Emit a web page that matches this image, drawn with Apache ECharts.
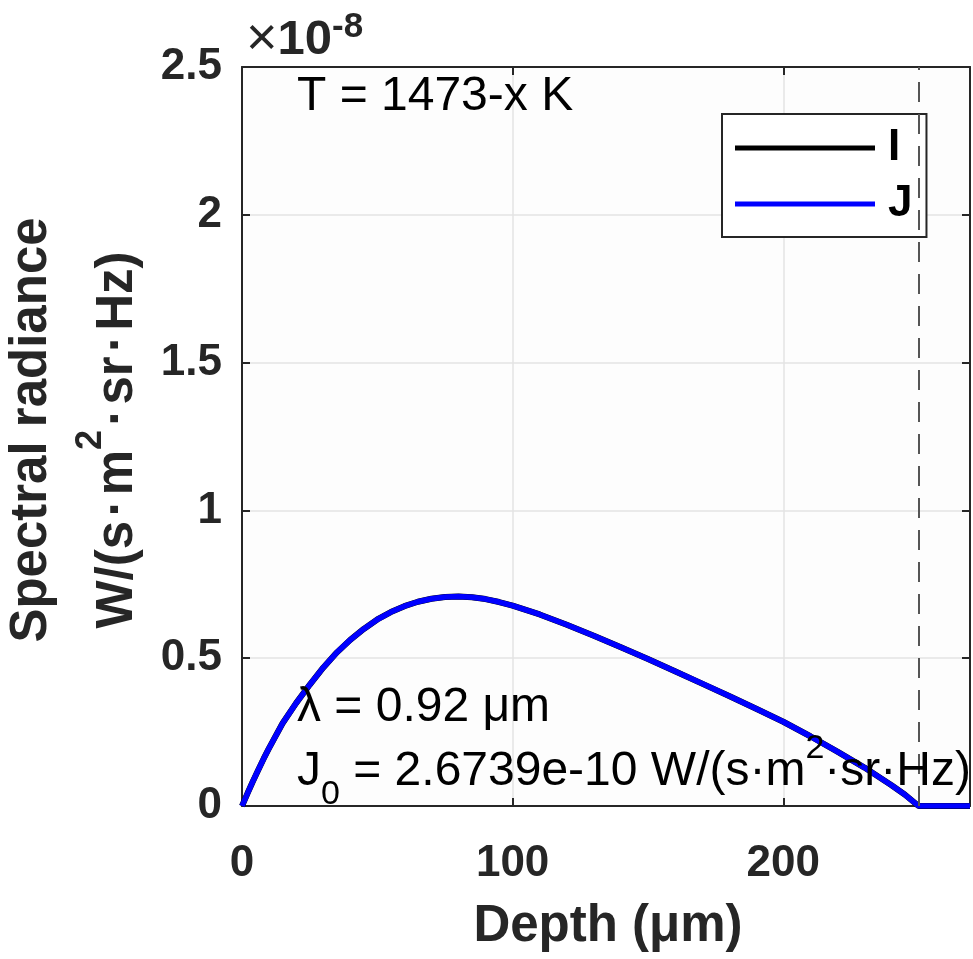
<!DOCTYPE html>
<html><head><meta charset="utf-8">
<script src="https://cdn.jsdelivr.net/npm/echarts@6/dist/echarts.min.js"></script>
<style>html,body{margin:0;padding:0;background:#fff}#c{width:973px;height:959px}</style>
</head><body><div id="c"></div>
<script>
// Depth (µm)
const depth = [0, 2, 4, 6, 8, 10, 15, 20, 25, 30, 35, 40, 45, 50, 55, 60, 65, 70, 75, 80, 85, 90, 95, 100,
  110, 120, 130, 140, 150, 160, 170, 180, 190, 200, 210, 220, 230, 240, 245, 250, 255, 260, 269];
// Spectral radiance, units of 1e-8 W/(s·m²·sr·Hz)
const valuesJ = [0, 0.042, 0.083, 0.122, 0.160, 0.196, 0.280, 0.348, 0.410, 0.468, 0.519, 0.562, 0.599, 0.631, 0.656, 0.676, 0.691, 0.701, 0.707, 0.709, 0.706, 0.700, 0.690, 0.678,
  0.648, 0.613, 0.576, 0.537, 0.497, 0.456, 0.414, 0.372, 0.329, 0.285, 0.236, 0.184, 0.130, 0.070, 0.038, 0, 0, 0, 0];
const valuesI = [0, 0.042, 0.083, 0.122, 0.160, 0.196, 0.280, 0.348, 0.410, 0.468, 0.519, 0.562, 0.599, 0.631, 0.656, 0.676, 0.691, 0.701, 0.707, 0.709, 0.706, 0.700, 0.690, 0.678,
  0.648, 0.613, 0.576, 0.537, 0.497, 0.456, 0.414, 0.372, 0.329, 0.285, 0.236, 0.184, 0.130, 0.070, 0.038, 0, 0, 0, 0];
const seriesNames = ['I', 'J'];
const xTicks = [0, 100, 200];
const yTicks = [0, 0.5, 1, 1.5, 2, 2.5];
const interfaceDepth = [250];
const xRange = [0, 269];
const yRange = [0, 2.5];

const chart = echarts.init(document.getElementById('c'), null, {renderer: 'canvas'});
const F = '"Liberation Sans", Arial, Helvetica, sans-serif';
const axisCol = '#262626';
const DOT = '\u200A·\u200A';

const pairs = (xs, ys) => xs.map((x, i) => [x, ys[i]]);

const option = {
  backgroundColor: '#ffffff',
  animation: false,
  grid: {left: 242, right: 3, top: 67, bottom: 153, show: true, backgroundColor: '#fdfdfd', borderWidth: 0},
  xAxis: [{
    type: 'value', min: xRange[0], max: xRange[1], interval: 100, position: 'bottom',
    axisLine: {show: true, onZero: false, lineStyle: {color: axisCol, width: 2}},
    axisTick: {show: true, inside: true, length: 8, lineStyle: {color: axisCol, width: 2}},
    axisLabel: {show: true, margin: 36, showMaxLabel: false, fontFamily: F, fontSize: 44, fontWeight: 'bold', color: axisCol,
      formatter: v => xTicks.includes(v) ? String(v) : ''},
    splitLine: {show: true, lineStyle: {color: '#e3e3e3', width: 1.5}}
  }, {
    type: 'value', min: xRange[0], max: xRange[1], interval: 100, position: 'top',
    axisLine: {show: true, onZero: false, lineStyle: {color: axisCol, width: 2}},
    axisTick: {show: true, inside: true, length: 8, lineStyle: {color: axisCol, width: 2}},
    axisLabel: {show: false}, splitLine: {show: false}
  }],
  yAxis: [{
    type: 'value', min: yRange[0], max: yRange[1], interval: 0.5, position: 'left',
    axisLine: {show: true, onZero: false, lineStyle: {color: axisCol, width: 2}},
    axisTick: {show: true, inside: true, length: 8, lineStyle: {color: axisCol, width: 2}},
    axisLabel: {show: true, margin: 20, fontFamily: F, fontSize: 44, fontWeight: 'bold', color: axisCol,
      formatter: v => yTicks.includes(+v.toFixed(2)) ? String(+v.toFixed(2)) : ''},
    splitLine: {show: true, lineStyle: {color: '#e3e3e3', width: 1.5}}
  }, {
    type: 'value', min: yRange[0], max: yRange[1], interval: 0.5, position: 'right',
    axisLine: {show: true, onZero: false, lineStyle: {color: axisCol, width: 2}},
    axisTick: {show: true, inside: true, length: 8, lineStyle: {color: axisCol, width: 2}},
    axisLabel: {show: false}, splitLine: {show: false}
  }],
  legend: {
    orient: 'vertical', left: 722, top: 114,
    padding: [12, 14, 11, 13], itemGap: 12,
    backgroundColor: '#ffffff', borderColor: axisCol, borderWidth: 2,
    icon: 'rect', itemWidth: 140, itemHeight: 5,
    textStyle: {fontFamily: F, fontSize: 44, fontWeight: 'bold', color: '#000', lineHeight: 44, padding: [0, 0, 0, 8]},
    data: seriesNames
  },
  series: [{
    name: seriesNames[0], type: 'line', data: pairs(depth, valuesI), showSymbol: false, symbol: 'none',
    lineStyle: {color: '#000000', width: 6}, itemStyle: {color: '#000000'}, z: 2,
    markLine: {
      silent: true, symbol: 'none', label: {show: false},
      lineStyle: {color: '#555555', width: 2, type: [20, 12]},
      data: interfaceDepth.map(v => ({xAxis: v}))
    }
  }, {
    name: seriesNames[1], type: 'line', data: pairs(depth, valuesJ), showSymbol: false, symbol: 'none',
    lineStyle: {color: '#0000ff', width: 5.5}, itemStyle: {color: '#0000ff'}, z: 3
  }],
  graphic: [
    {type: 'text', z: 10, x: 246, y: 40, style: {
      text: '{mx|×}{mb|10}{ms|-8}', align: 'left', verticalAlign: 'middle', lineHeight: 60,
      rich: {
        mx: {fontFamily: F, fontSize: 54, fontWeight: 'normal', fill: '#262626', lineHeight: 60},
        mb: {fontFamily: F, fontSize: 49, fontWeight: 'bold', fill: '#262626', lineHeight: 60},
        ms: {fontFamily: F, fontSize: 35, fontWeight: 'bold', fill: '#262626', verticalAlign: 'top', lineHeight: 17}
      }}},
    {type: 'text', z: 10, x: 297, y: 97, style: {
      text: 'T = 1473-x K', fontFamily: F, fontSize: 48, fill: '#000', textAlign: 'left', textVerticalAlign: 'middle'}},
    {type: 'text', z: 10, x: 297, y: 708, style: {
      text: 'λ = 0.92 μm', fontFamily: F, fontSize: 48, fill: '#000', textAlign: 'left', textVerticalAlign: 'middle'}},
    {type: 'text', z: 10, x: 297, y: 772, style: {
      text: '{m|J}{sub|0}{m| = 2.6739e-10 W/(s·m}{sup|2}{m|·sr·Hz)}', align: 'left', verticalAlign: 'middle', lineHeight: 80,
      rich: {
        m: {fontFamily: F, fontSize: 48, fill: '#000', lineHeight: 80},
        sub: {fontFamily: F, fontSize: 34, fill: '#000', verticalAlign: 'bottom', lineHeight: 49},
        sup: {fontFamily: F, fontSize: 34, fill: '#000', verticalAlign: 'top', lineHeight: 17}
      }}},
    {type: 'text', z: 10, x: 32, y: 430, rotation: Math.PI / 2, style: {
      text: 'Spectral radiance', fontFamily: F, fontSize: 51, fontWeight: 'bold', fill: '#262626', textAlign: 'center', textVerticalAlign: 'middle'}},
    {type: 'text', z: 10, x: 118, y: 440, rotation: Math.PI / 2, style: {
      text: '{m|W/(s' + DOT + 'm}{sup|2}{m|' + DOT + 'sr' + DOT + 'Hz)}', align: 'center', verticalAlign: 'middle', lineHeight: 90,
      rich: {
        m: {fontFamily: F, fontSize: 51, fontWeight: 'bold', fill: '#262626', lineHeight: 90},
        sup: {fontFamily: F, fontSize: 36, fontWeight: 'bold', fill: '#262626', verticalAlign: 'top', lineHeight: 10}
      }}},
    {type: 'text', z: 10, x: 608, y: 927, style: {
      text: 'Depth (μm)', fontFamily: F, fontSize: 51, fontWeight: 'bold', fill: '#262626', textAlign: 'center', textVerticalAlign: 'middle'}}
  ]
};
chart.setOption(option);
</script>
</body></html>
